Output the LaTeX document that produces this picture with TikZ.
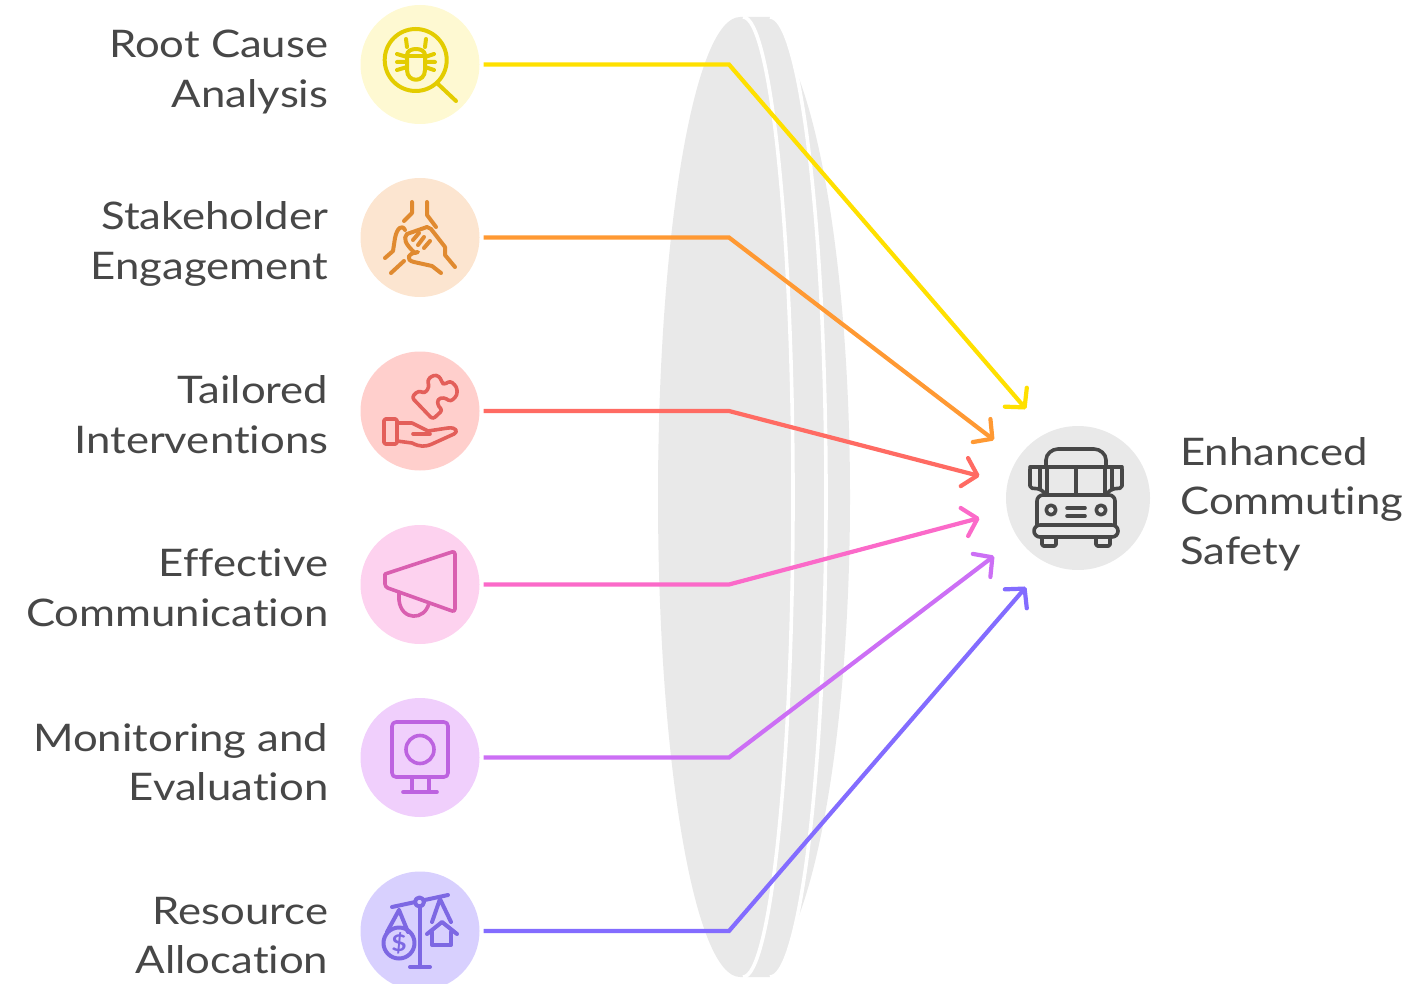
\documentclass[tikz,border=0pt]{standalone}
\usepackage{fontspec}
\setmainfont[FakeStretch=1.15,Ligatures=NoCommon]{Lato}
\usetikzlibrary{arrows.meta}
\definecolor{lens}{HTML}{E9E9E9}
\definecolor{ink}{HTML}{474747}
\definecolor{yA}{HTML}{FEF9D2}\definecolor{yB}{HTML}{E3CC00}\definecolor{yC}{HTML}{FFE000}
\definecolor{oA}{HTML}{FCE5D0}\definecolor{oB}{HTML}{E08A30}\definecolor{oC}{HTML}{FF9933}
\definecolor{rA}{HTML}{FFCFCC}\definecolor{rB}{HTML}{E35F5A}\definecolor{rC}{HTML}{FF6B63}
\definecolor{pA}{HTML}{FDD2EF}\definecolor{pB}{HTML}{D95FB0}\definecolor{pC}{HTML}{FB6AC9}
\definecolor{uA}{HTML}{F0CFFC}\definecolor{uB}{HTML}{BD63E0}\definecolor{uC}{HTML}{CC6FF5}
\definecolor{vA}{HTML}{D8D0FE}\definecolor{vB}{HTML}{7D68E3}\definecolor{vC}{HTML}{836CFF}
\tikzset{
  disc/.style={circle,minimum size=119pt,inner sep=0pt,fill=#1},
  lbl/.style={text=ink,align=right,anchor=east,inner sep=0pt,font=\fontsize{38}{49.5}\selectfont},
  lblr/.style={text=ink,align=left,anchor=west,inner sep=0pt,font=\fontsize{38}{49.5}\selectfont},
  link/.style={draw=#1,line width=4.2pt,line join=miter,-{Straight Barb[length=13.5pt,width=29pt,line width=4.2pt,round]}},
  ico/.style={draw=#1,line width=3.6pt,line cap=round,line join=round},
}
\begin{document}
\begin{tikzpicture}[x=1pt,y=-1pt]
\useasboundingbox (0,0) rectangle (1407,984);
% lens
\begin{scope}
\clip (600,17) rectangle (900,978);
\fill[lens] (750,17) arc[start angle=-90,end angle=90,x radius=100,y radius=480] -- cycle;
\fill[lens] (743,17) -- (770,17) arc[start angle=-90,end angle=90,x radius=56,y radius=480] -- (743,977) -- cycle;
\draw[white,line width=3.6pt] (770,17) arc[start angle=-90,end angle=90,x radius=56,y radius=480];
\fill[lens] (740,17) arc[start angle=-90,end angle=-270,x radius=82,y radius=480] -- (743,977) arc[start angle=90,end angle=-90,x radius=50,y radius=480] -- cycle;
\draw[white,line width=3.6pt] (743,17) arc[start angle=-90,end angle=90,x radius=50,y radius=480];
\end{scope}
% discs
\node[disc=yA] (c1) at (420,64.5) {};
\node[disc=oA] (c2) at (420,237.5) {};
\node[disc=rA] (c3) at (420,411) {};
\node[disc=pA] (c4) at (420,584.5) {};
\node[disc=uA] (c5) at (420,757.5) {};
\node[disc=vA] (c6) at (420,931) {};
\node[circle,minimum size=144pt,inner sep=0pt,fill=lens] (hub) at (1078,498) {};
% labels
\node[lbl] (t1) at (328.5,72) {Root Cause\\Analysis};
\node[lbl] (t2) at (328.5,244) {Stakeholder\\Engagement};
\node[lbl] (t3) at (328.5,414.5) {Tailored\\Interventions};
\node[lbl] (t4) at (328.5,588) {Effective\\Communication};
\node[lbl] (t5) at (328.5,762) {Monitoring and\\Evaluation};
\node[lbl] (t6) at (328.5,935.5) {Resource\\Allocation};
\node[lblr] (t7) at (1180,504) {Enhanced\\Commuting\\Safety};
% connectors
\coordinate (b1) at (729,64.5);\coordinate (e1) at (1026,409);
\coordinate (b2) at (729,237.5);\coordinate (e2) at (994,440);
\coordinate (b3) at (729,411);\coordinate (e3) at (979.5,476);
\coordinate (b4) at (729,584.5);\coordinate (e4) at (979.5,518);
\coordinate (b5) at (729,757.5);\coordinate (e5) at (994,556);
\coordinate (b6) at (729,931);\coordinate (e6) at (1026,587);
\draw[link=yC] ([xshift=4pt]c1.east) -- (b1) -- (e1);
\draw[link=oC] ([xshift=4pt]c2.east) -- (b2) -- (e2);
\draw[link=rC] ([xshift=4pt]c3.east) -- (b3) -- (e3);
\draw[link=pC] ([xshift=4pt]c4.east) -- (b4) -- (e4);
\draw[link=uC] ([xshift=4pt]c5.east) -- (b5) -- (e5);
\draw[link=vC] ([xshift=4pt]c6.east) -- (b6) -- (e6);
% bug icon
\begin{scope}[ico=yB,line width=4pt]
\draw (415.7,60) circle (31);
\draw (438,84) -- (456,101);
\draw (407,55) .. controls (407,47) and (425,47) .. (425,55) -- (425,70) .. controls (425,83) and (407,83) .. (407,70) -- cycle;
\draw (407,56) -- (425,56);
\draw (407,47) -- (406,39) (425,47) -- (426,39);
\draw (397,54) -- (407,57) (397,62) -- (407,62) (397,70) -- (407,67);
\draw (434,54) -- (425,57) (435,62) -- (425,62) (434,70) -- (425,67);
\end{scope}
% hands icon
\begin{scope}[ico=oB,line width=4pt]
\draw (412,202) -- (412,213) -- (404,221);
\draw (427,202) -- (427,215) -- (436,227);
\draw (385,258) -- (393,251) -- (395,238) .. controls (397,228) and (402,224) .. (405,230);
\draw (391,273) -- (404,261);
\draw (407,234) -- (427,227) -- (431,229) -- (445,247) -- (445,255) -- (455,267);
\draw (407,234) .. controls (403,238) and (405,244) .. (415,253) -- (418,252) .. controls (408,253) and (405,260) .. (414,262) -- (432,266) -- (441,273);
\draw (413,240) -- (419,233) (418,245) -- (424,237) (424,248) -- (430,241);
\end{scope}
% puzzle-hand icon
\begin{scope}[ico=rB]
\draw[rounded corners=1.5pt] (384,419) rectangle (397,444);
\draw (397,423) -- (412,423) -- (428,431) -- (448,428) .. controls (457,427) and (458,432) .. (454,434) -- (432,444) .. controls (425,447) and (420,447) .. (412,443) -- (397,441);
\draw (413,434) -- (430,434);
\draw[rounded corners=3pt] (411.7,397.3) -- (418.3,390.7) -- (425,393.3) -- (429.3,386.7) -- (427.3,380) -- (433.3,375) -- (439.3,376) -- (441.7,381.7) -- (444,385) -- (450,380.7) -- (456.7,386.7) -- (457.3,395) -- (450.7,401.7) -- (444,397.3) -- (437.3,399.3) -- (438.3,406.7) -- (442.7,410) -- (432.7,419.3) -- cycle;
\end{scope}
% megaphone icon
\begin{scope}[ico=pB]
\draw[rounded corners=3pt] (385,574) -- (455,551) -- (455,612) -- (385,587) -- (385,574);
\draw (399,592) -- (399,600) .. controls (401,621) and (425,621) .. (429,603);
\end{scope}
% monitor icon
\begin{scope}[ico=uB]
\draw[rounded corners=4pt] (392,722) rectangle (448,777);
\draw (420,749.5) circle (14);
\draw (412,777) -- (412,792) (429,777) -- (429,792);
\draw (403,792) -- (437,792);
\end{scope}
% scales icon
\begin{scope}[ico=vB,line width=4pt]
\draw (392,907) -- (448,895);
\draw (420,905) -- (420,967);
\draw (410,967) -- (430,967);
\draw[fill=vA] (419.5,902) circle (4.5);
\draw (399,943) circle (15.5);
\draw (399,910) -- (387,932) (399,910) -- (408,932);
\draw (440,899) -- (432,922) (440,899) -- (451,922);
\draw (427,934) -- (442,922) -- (457,934);
\draw (432,932) -- (432,945) -- (451,945) -- (451,932);
\node[inner sep=0pt,text=vB,font=\fontsize{23}{23}\selectfont\bfseries] (dollar) at (399,943) {\$};
\end{scope}
% bus icon
\begin{scope}[ico=ink]
\draw (1046,465) -- (1046,460) .. controls (1046,454) and (1052,449) .. (1058,449) -- (1094,449) .. controls (1100,449) and (1106,454) .. (1106,460) -- (1106,465);
\draw (1030,467) -- (1122,467);
\draw[rounded corners=2pt] (1047,467) -- (1030,467) -- (1030,488) -- (1040,489) -- (1047,495);
\draw[rounded corners=2pt] (1105,467) -- (1122,467) -- (1122,488) -- (1112,489) -- (1105,495);
\draw (1040,467) -- (1040,489) (1112,467) -- (1112,489);
\draw (1047,467) -- (1047,495) (1076,467) -- (1076,495) (1105,467) -- (1105,495);
\draw[rounded corners=6pt] (1037,525) -- (1037,495) -- (1115,495) -- (1115,525);
\draw (1051,510) circle (4.8) (1101,510) circle (4.8);
\draw (1067,508) -- (1085,508) (1067,516) -- (1085,516);
\draw[rounded corners=6pt] (1034,525) rectangle (1118,537);
\draw[rounded corners=1.5pt] (1042,537) -- (1042,546) -- (1056,546) -- (1056,537);
\draw[rounded corners=1.5pt] (1096,537) -- (1096,546) -- (1110,546) -- (1110,537);
\end{scope}
\end{tikzpicture}
\end{document}
